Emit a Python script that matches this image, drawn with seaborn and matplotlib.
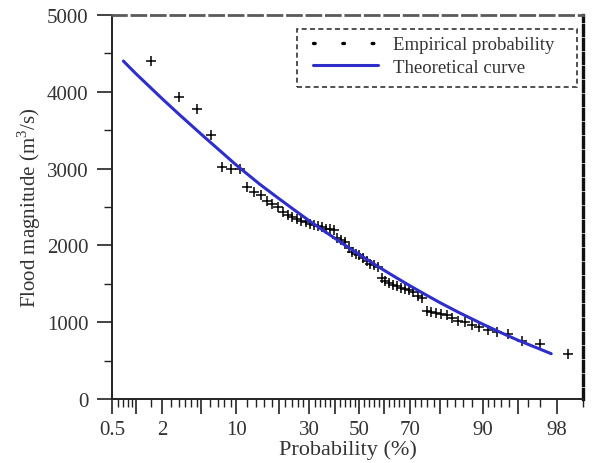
import numpy as np
import pandas as pd
import seaborn as sns
import matplotlib
matplotlib.use("Agg")
import matplotlib.pyplot as plt
from matplotlib.lines import Line2D
from matplotlib.patches import Rectangle
from matplotlib.ticker import FixedLocator, MultipleLocator
from statistics import NormalDist

# Empirical flood magnitudes (m3/s), ranked, plotting position m/(n+1)
flood = [4400, 3930, 3780, 3440, 3020, 3000, 2990, 2760, 2700, 2660,
         2580, 2540, 2500, 2430, 2400, 2370, 2340, 2320, 2300, 2280,
         2260, 2250, 2240, 2220, 2210, 2200, 2100, 2070, 2050, 1960,
         1920, 1890, 1870, 1840, 1800, 1760, 1740, 1720, 1580, 1540,
         1510, 1490, 1470, 1450, 1430, 1420, 1390, 1340, 1310, 1150,
         1130, 1120, 1110, 1090, 1060, 1020, 1000, 970, 940, 900,
         870, 840, 760, 720, 590]
n = len(flood)
emp_prob = [100.0 * m / (n + 1) for m in range(1, n + 1)]

# Theoretical frequency curve
curve_prob = [0.7, 1, 2, 3, 5, 10, 15, 20, 25, 30, 35, 40, 45, 50, 55,
              60, 65, 70, 75, 80, 85, 90, 93, 95, 97.7]
curve_q = [4400, 4235, 3910, 3710, 3445, 3045, 2795, 2612, 2458, 2322,
           2202, 2090, 1982, 1880, 1778, 1678, 1578, 1475, 1368, 1252,
           1125, 975, 862, 768, 590]

major_ticks = [0.5, 1, 2, 5, 10, 20, 30, 40, 50, 60, 70, 80, 90, 95, 98]
major_labels = ['0.5', '', '2', '', '10', '', '30', '', '50', '', '70', '', '90', '', '98']
minor_ticks = ([0.6, 0.7, 0.8, 0.9, 1.5, 2.5, 3, 3.5, 4, 4.5, 6, 7, 8, 9]
               + list(range(12, 30, 2)) + list(range(32, 50, 2))
               + list(range(52, 70, 2)) + list(range(72, 90, 2))
               + [91, 92, 93, 94, 96, 97, 99])

emp = pd.DataFrame({'p': emp_prob, 'q': flood})
theo = pd.DataFrame({'p': curve_prob, 'q': curve_q})

_nd = NormalDist()
_ppf = np.vectorize(_nd.inv_cdf, otypes=[float])
_cdf = np.vectorize(_nd.cdf, otypes=[float])


def prob_fwd(p):
    p = np.clip(np.asarray(p, dtype=float), 1e-4, 100 - 1e-4)
    return _ppf(p / 100.0)


def prob_inv(z):
    return _cdf(np.asarray(z, dtype=float)) * 100.0


sns.set_style("ticks")
plt.rcParams['font.family'] = ['Liberation Serif', 'DejaVu Serif']
plt.rcParams['mathtext.fontset'] = 'custom'
plt.rcParams['mathtext.rm'] = 'Liberation Serif'

fig = plt.figure(figsize=(5.92, 4.64), dpi=100)
ax = fig.add_axes([112 / 592, 1 - 400 / 464, 471 / 592, 384 / 464])
ax.set_xscale('function', functions=(prob_fwd, prob_inv))

line_color = '#2e2ecc'
sns.lineplot(data=theo, x='p', y='q', ax=ax, color=line_color, lw=2.2,
             sort=False, estimator=None)
sns.scatterplot(data=emp, x='p', y='q', ax=ax, marker='+', color='black',
                s=45, linewidth=1.1)

ax.set_xlim(0.5, 99)
ax.set_ylim(0, 5000)

ax.xaxis.set_major_locator(FixedLocator(major_ticks))
ax.set_xticklabels(major_labels)
ax.xaxis.set_minor_locator(FixedLocator(minor_ticks))
ax.yaxis.set_major_locator(MultipleLocator(1000))
ax.yaxis.set_minor_locator(MultipleLocator(500))

ax.tick_params(axis='both', which='major', direction='out', length=11,
               width=1.2, labelsize=15, color='#222222', labelcolor='#333333')
ax.tick_params(axis='both', which='minor', direction='out', length=5.5,
               width=1.0, color='#222222')
ax.tick_params(axis='x', which='major', pad=4)
ax.tick_params(axis='y', which='major', pad=6)

ax.set_xlabel('Probability (%)', fontsize=16, color='#333333', labelpad=0)
ax.set_ylabel('Flood magnitude (m$^3$/s)', fontsize=15, color='#333333', labelpad=3)

# Frame: solid left/bottom, dashed top/right
ax.spines['left'].set_color('#222222')
ax.spines['left'].set_linewidth(1.4)
ax.spines['bottom'].set_color('#222222')
ax.spines['bottom'].set_linewidth(1.4)
ax.spines['top'].set_color('#5a5a5a')
ax.spines['top'].set_linewidth(2.0)
ax.spines['top'].set_linestyle((0, (5, 2)))
ax.spines['right'].set_color('#111111')
ax.spines['right'].set_linewidth(2.4)
ax.spines['right'].set_linestyle((0, (3, 1.2)))

# Legend with dotted symbol for the empirical points, in a dashed box
handles = [Line2D([], [], color='black', lw=2.4, linestyle=(0, (0.5, 8.3)),
                  dash_capstyle='round'),
           Line2D([], [], color=line_color, lw=2.2)]
leg = ax.legend(handles, ['Empirical probability', 'Theoretical curve'],
                loc='upper left', bbox_to_anchor=(0.427, 0.945),
                borderaxespad=0, borderpad=0, fontsize=13.5, handlelength=3.45,
                handletextpad=0.8, labelspacing=0.3, frameon=False)
for t in leg.get_texts():
    t.set_color('#333333')
ax.add_patch(Rectangle((0.393, 0.8125), 0.594, 0.151, transform=ax.transAxes,
                       fill=False, edgecolor='#333333', lw=1.2,
                       linestyle=(0, (3, 2)), zorder=5))

plt.savefig("out.png", dpi=100)
